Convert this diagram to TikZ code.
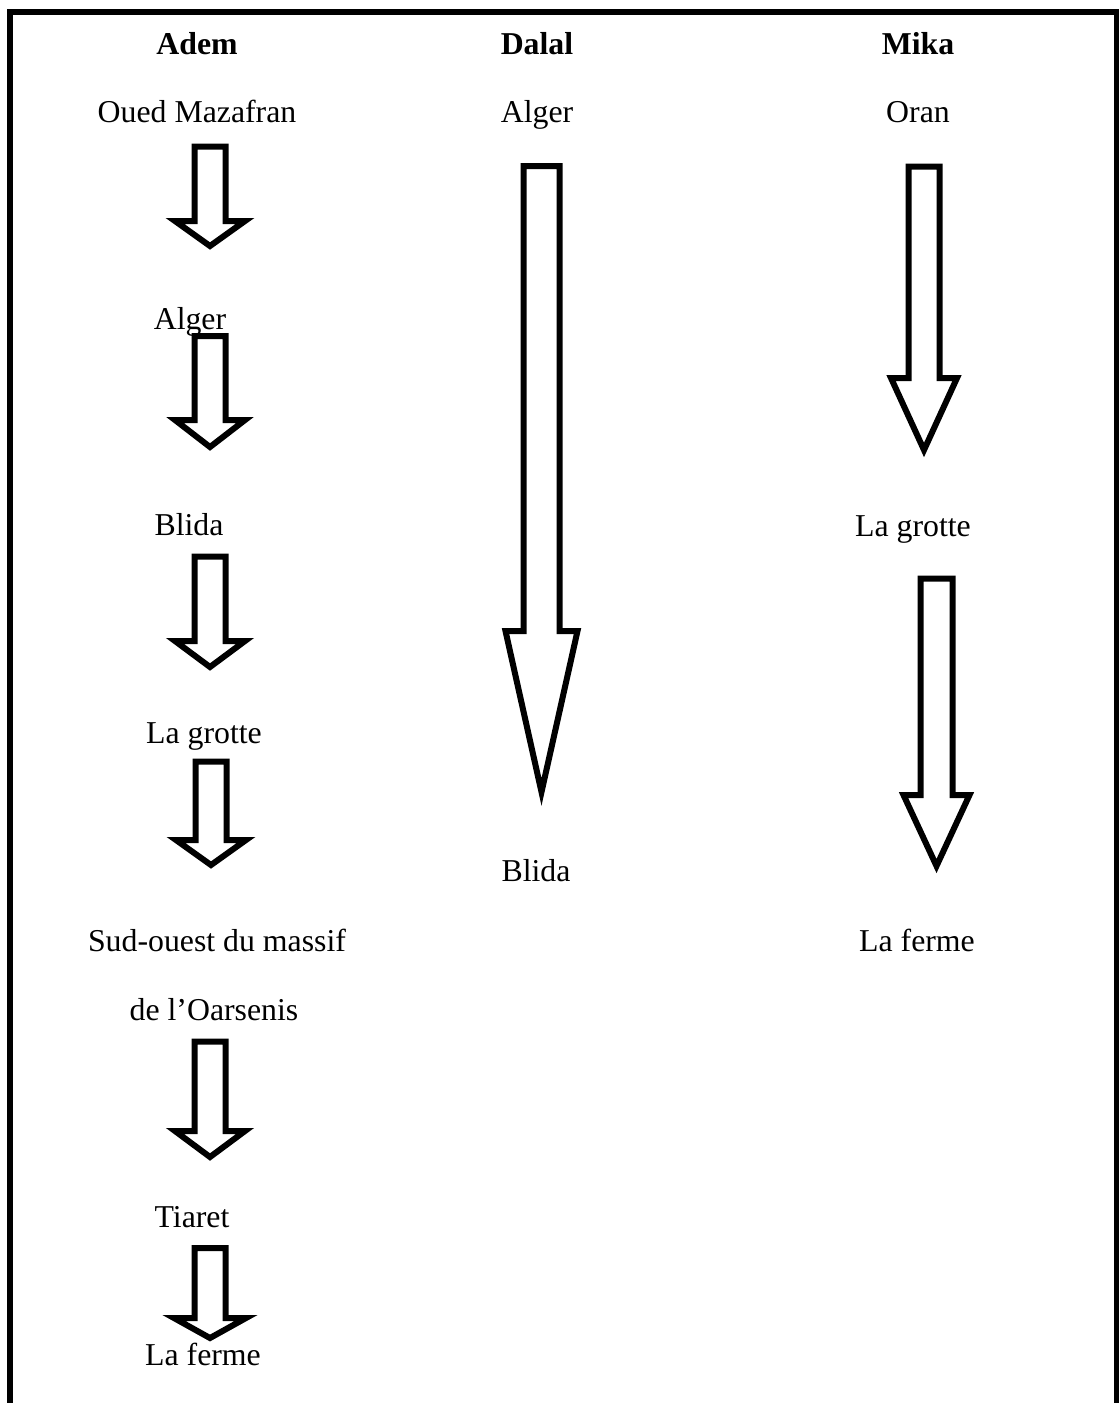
\documentclass[tikz,border=0pt]{standalone}
\usepackage{fontspec}
\setmainfont{Liberation Serif}
\tikzset{
  label/.style={anchor=base, inner sep=0pt, font=\fontsize{31.8}{38}\selectfont},
  head/.style={label, font=\fontsize{31.8}{38}\selectfont\bfseries},
  hollow/.style={draw=black, fill=white, line width=6pt, line join=miter, miter limit=10},
  frame/.style={line width=6pt}
}
% hollow block arrow pointing down:
% #1 centre x, #2 top, #3 start of head, #4 tip, #5 shaft half-width, #6 head half-width
\newcommand\blockdown[6]{%
  \path[hollow] (#1-#5,#2) -- (#1+#5,#2) -- (#1+#5,#3) -- (#1+#6,#3)
    -- (#1,#4) -- (#1-#6,#3) -- (#1-#5,#3) -- cycle;}
\begin{document}
\begin{tikzpicture}[x=1pt, y=-1pt]
\useasboundingbox (0,0) rectangle (1119,1403);
\begin{scope}
\clip (0,0) rectangle (1119,1403);
% open frame: top edge and both sides
\draw[frame] (10,1403) -- (10,12) -- (1117,12) -- (1117,1403);
\end{scope}

% column titles
\node[head] (hadem)  at (197,54) {Adem};
\node[head] (hdalal) at (537,54) {Dalal};
\node[head] (hmika)  at (918,54) {Mika};

% Adem
\node[label] (a1) at (197,122) {Oued Mazafran};
\node[label] (a2) at (190,329) {Alger};
\node[label] (a3) at (189,535) {Blida};
\node[label] (a4) at (204,743) {La grotte};
\node[label] (a5) at (217,951) {Sud-ouest du massif};
\node[label] (a6) at (214,1020) {de l’Oarsenis};
\node[label] (a7) at (192,1227) {Tiaret};
\node[label] (a8) at (203,1365) {La ferme};

\blockdown{210}{146.5}{221}{246}{15.5}{35}
\blockdown{210}{336}{420}{447}{15.5}{35}
\blockdown{210}{556.5}{641}{667}{15.5}{35}
\blockdown{211}{761.5}{840}{865}{15.5}{35}
\blockdown{210}{1041.5}{1131}{1157}{15.5}{35}
\blockdown{210}{1248}{1318}{1338}{15.5}{36}

% Dalal
\node[label] (d1) at (537,122) {Alger};
\node[label] (d2) at (536,881) {Blida};
\blockdown{541.5}{166}{631}{792}{18}{36}

% Mika
\node[label] (m1) at (918,122) {Oran};
\node[label] (m2) at (913,536) {La grotte};
\node[label] (m3) at (917,951) {La ferme};
\blockdown{924}{166.5}{378}{450}{15.5}{33}
\blockdown{936.5}{578.5}{795}{866}{16}{33}
\end{tikzpicture}
\end{document}
